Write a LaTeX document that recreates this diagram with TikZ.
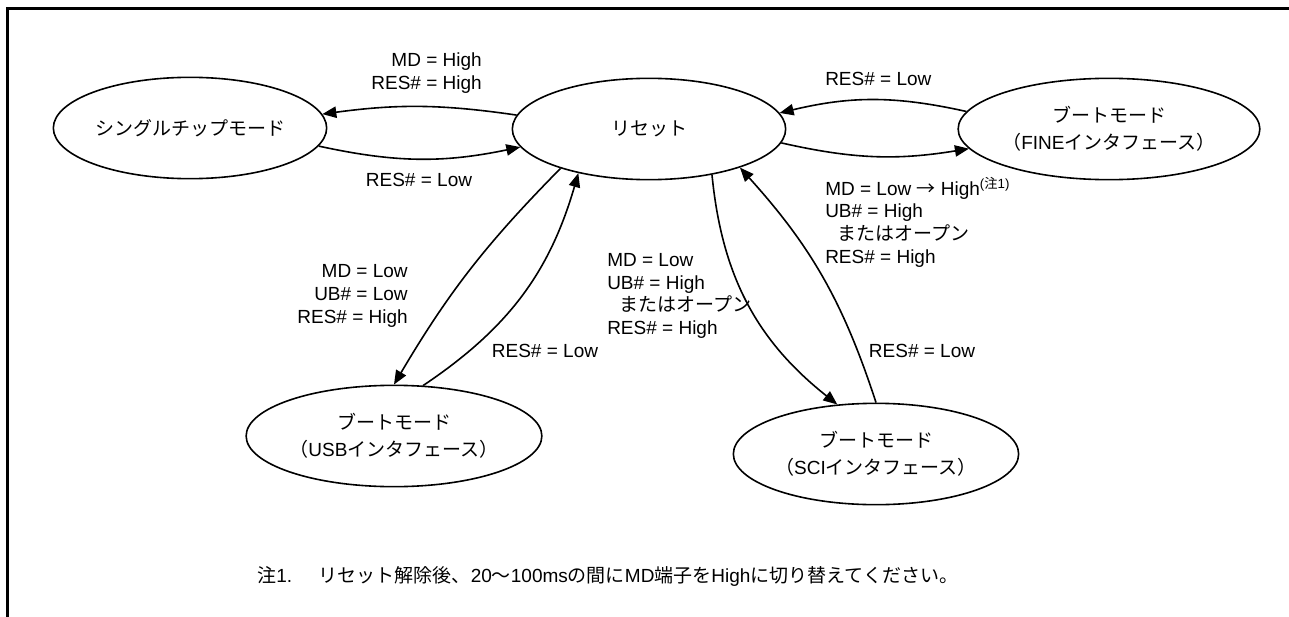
\documentclass[tikz,border=0pt]{standalone}
\usepackage{fontspec}
\setmainfont{Liberation Sans}
\newfontfamily\jp{Noto Sans CJK JP}
\usetikzlibrary{arrows.meta, shapes.geometric}

\begin{document}
\begin{tikzpicture}[x=0.75pt, y=-0.75pt,
    modebox/.style={draw, ellipse, line width=1.2pt, inner sep=0pt,
        minimum width=205pt, minimum height=76pt, align=center,
        font=\fontsize{14.25pt}{20pt}\selectfont},
    cond/.style={inner sep=0pt, font=\fontsize{14.25pt}{17pt}\selectfont},
    trans/.style={line width=1.2pt, -{Triangle[length=10.5pt, width=8.5pt]}}
  ]
  \useasboundingbox (0,0) rectangle (1289,617);
  % frame: only the top and the left edge
  \draw[line width=2.25pt, line join=miter] (7.5,625) -- (7.5,8.5) -- (1295,8.5);

  % modes
  \node[modebox] (single) at (190,128) {{\jp シングルチップモード}};
  \node[modebox] (reset) at (649,129) {{\jp リセット}};
  \node[modebox] (fine) at (1109,129)
    {{\jp ブートモード}\\{\jp （}FINE{\jp インタフェース）}};
  \node[modebox] (usb) at (394,436)
    {{\jp ブートモード}\\{\jp （}USB{\jp インタフェース）}};
  \node[modebox] (sci) at (876,454)
    {{\jp ブートモード}\\{\jp （}SCI{\jp インタフェース）}};

  % transitions
  \draw[trans] (reset.174) to[bend right=8] (single.6);
  \draw[trans] (single.-8) to[bend right=12] (reset.188);
  \draw[trans] (fine.173) to[bend right=13] (reset.7);
  \draw[trans] (reset.-6) to[bend right=11] (fine.188);
  \draw[trans] (reset.204) to[bend right=7] (usb.90);
  \draw[trans] (usb.60) to[bend right=20] (reset.212);
  \draw[trans] (reset.-36) to[bend right=23] (sci.128);
  \draw[trans] (sci.90) to[bend right=12] (reset.-23);

  % conditions
  \node[cond, anchor=east, align=right] (condSingle) at (482,73)
    {MD = High\\RES\# = High};
  \node[cond] (condBackA) at (419,180) {RES\# = Low};
  \node[cond, anchor=west] (condBackB) at (825,79) {RES\# = Low};
  \node[cond, anchor=west, align=left] (condFine) at (825,222)
    {MD = Low {\jp →} High\textsuperscript{({\jp 注}1)}\\UB\# = High\\
     \hspace*{9pt}{\jp またはオープン}\\RES\# = High};
  \node[cond, anchor=east, align=right] (condUsb) at (408,296)
    {MD = Low\\UB\# = Low\\RES\# = High};
  \node[cond] (condBackC) at (545,351) {RES\# = Low};
  \node[cond, anchor=west, align=left] (condSci) at (607,296)
    {MD = Low\\UB\# = High\\\hspace*{9pt}{\jp またはオープン}\\RES\# = High};
  \node[cond] (condBackD) at (922,351) {RES\# = Low};

  % footnote
  \node[cond, anchor=west] (note) at (257,576)
    {{\jp 注}1.\hspace{20pt}{\jp リセット解除後、}20{\jp 〜}100ms{\jp の間に}MD{\jp 端子を}High{\jp に切り替えてください。}};
\end{tikzpicture}
\end{document}
